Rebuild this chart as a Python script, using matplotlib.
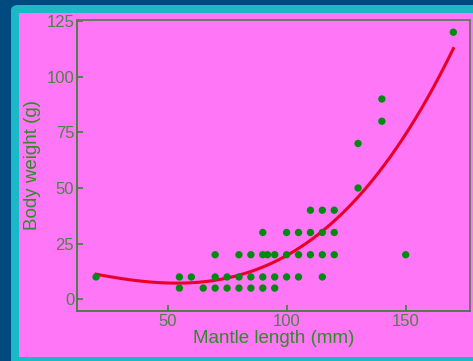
import numpy as np
import matplotlib
matplotlib.use("Agg")
import matplotlib.pyplot as plt
from matplotlib.patches import FancyBboxPatch, Rectangle

# Squid measurements: mantle length (mm) and body weight (g)
mantle_length = [20, 55, 55, 60, 65, 70, 70, 70, 75, 75, 80, 80, 80,
                 85, 85, 85, 90, 90, 90, 90, 92, 95, 95, 95,
                 100, 100, 100, 105, 105, 105, 110, 110, 110,
                 115, 115, 115, 115, 120, 120, 120,
                 130, 130, 140, 140, 150, 170]
body_weight = [10, 10, 5, 10, 5, 20, 10, 5, 10, 5, 20, 10, 5,
               20, 10, 5, 30, 20, 10, 5, 20, 20, 10, 5,
               30, 20, 10, 30, 20, 10, 40, 30, 20,
               40, 30, 20, 10, 40, 30, 20,
               70, 50, 90, 80, 20, 120]

x_ticks = [50, 100, 150]
y_ticks = [0, 25, 50, 75, 100, 125]

plt.rcParams['font.family'] = ['Liberation Sans', 'DejaVu Sans']

W, H = 473, 361
fig = plt.figure(figsize=(W / 100, H / 100), dpi=100)
fig.patch.set_facecolor('#004a80')

# Teal frame with rounded corner and magenta panel
fig.patches.append(FancyBboxPatch((11 / W, -0.05), 1.2, (H - 5) / H + 0.05,
                                  boxstyle="round,pad=0,rounding_size=0.015",
                                  transform=fig.transFigure, facecolor='#1bb8c6',
                                  edgecolor='none', zorder=-2))
fig.patches.append(Rectangle((19 / W, (H - 357) / H), 1.0, (357 - 13) / H,
                             transform=fig.transFigure, facecolor='#ff77f7',
                             edgecolor='none', zorder=-1))

ax = fig.add_axes([77 / W, (H - 311) / H, (470 - 77) / W, (311 - 20) / H])
ax.set_facecolor('#ff77f7')
ax.set_zorder(1)

x = np.array(mantle_length, dtype=float)
y = np.array(body_weight, dtype=float)

# Cubic least-squares trend
coef = np.polyfit(x, y, 3)
xs = np.linspace(x.min(), x.max(), 300)
ax.plot(xs, np.polyval(coef, xs), color='#e8002a', lw=2.2, zorder=2)

ax.scatter(x, y, s=28, color='#008a10', edgecolors='none', zorder=3)

ax.set_xlim(12, 177)
ax.set_ylim(-5.3, 125.5)
ax.set_xticks(x_ticks)
ax.set_yticks(y_ticks)

green = '#3f7f3a'
for side in ['left', 'bottom']:
    ax.spines[side].set_color(green)
    ax.spines[side].set_linewidth(1.3)
for side in ['top', 'right']:
    ax.spines[side].set_color('#5f7a5c')
    ax.spines[side].set_linewidth(1.3)

ax.tick_params(direction='in', length=4, width=1.2, color=green,
               labelcolor='#4f7f4a', labelsize=12, pad=2)
ax.set_xlabel('Mantle length (mm)', color='#2f8a2a', fontsize=13.5, labelpad=1)
ax.set_ylabel('Body weight (g)', color='#2f8a2a', fontsize=13.5, labelpad=4)

fig.savefig('out.png', dpi=100, facecolor=fig.get_facecolor())
